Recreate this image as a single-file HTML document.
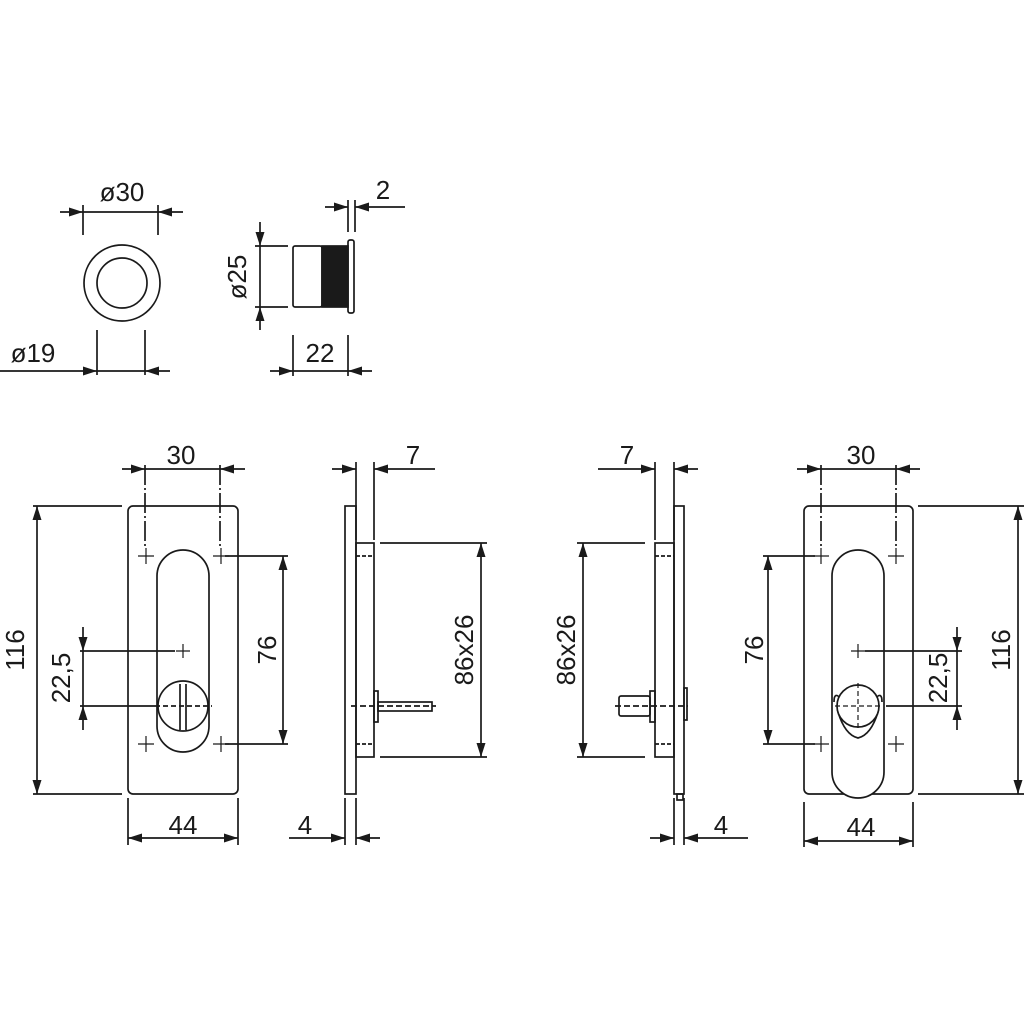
<!DOCTYPE html>
<html><head><style>html,body{margin:0;padding:0;background:#fff}svg{display:block}</style></head><body>
<svg width="1024" height="1024" viewBox="0 0 1024 1024" xmlns="http://www.w3.org/2000/svg" font-family="Liberation Sans, sans-serif" font-size="26" fill="none" stroke="#1a1a1a" stroke-width="1.7">
<defs>
<marker id="a" viewBox="0 0 14 9" refX="14" refY="4.5" markerWidth="14" markerHeight="9" markerUnits="userSpaceOnUse" orient="auto-start-reverse"><path d="M0,0L14,4.5L0,9z" fill="#1a1a1a" stroke="none"/></marker>
</defs>
<!-- top circle view -->
<circle cx="122" cy="283" r="38"/><circle cx="122" cy="283" r="25"/>
<path d="M83,205V235M158,205V235M97,330V375M145,330V375"/>
<path d="M60,212H83" marker-end="url(#a)"/><path d="M83,212H158"/><path d="M183,212H158" marker-end="url(#a)"/>
<path d="M0,371H97" marker-end="url(#a)"/><path d="M97,371H145"/><path d="M170,371H145" marker-end="url(#a)"/>
<g fill="#1a1a1a" stroke="none"><text x="122" y="201" text-anchor="middle">ø30</text><text x="33" y="362" text-anchor="middle">ø19</text><text x="383" y="199" text-anchor="middle">2</text><text x="320" y="362" text-anchor="middle">22</text>
<text transform="translate(246,277) rotate(-90)" text-anchor="middle">ø25</text></g>
<!-- cylinder side -->
<rect x="293" y="246" width="29" height="61" rx="2"/><rect x="322" y="246" width="26" height="61" fill="#1a1a1a"/><rect x="348" y="240" width="6" height="73" rx="2"/>
<path d="M255,246H288M255,307H288"/>
<path d="M260,222V246" marker-end="url(#a)"/><path d="M260,246V307"/><path d="M260,330V307" marker-end="url(#a)"/>
<path d="M348,200V232M355,200V232"/>
<path d="M325,207H348" marker-end="url(#a)"/><path d="M405,207H355" marker-end="url(#a)"/>
<path d="M293,335V376M348,335V376"/>
<path d="M270,371H293" marker-end="url(#a)"/><path d="M293,371H348"/><path d="M372,371H348" marker-end="url(#a)"/>

<!-- left plate -->
<rect x="128" y="506" width="110" height="288" rx="5"/>
<rect x="157" y="550" width="52" height="202" rx="26"/>
<circle cx="183" cy="706" r="25" fill="#fff"/>
<path d="M180,684V730M186,684V730"/>
<g stroke-width="1.2"><path d="M138,556H154M146,548V564M213,556H229M221,548V564M138,744H154M146,736V752M213,744H229M221,736V752M176,651H190M183,644V658"/></g>
<path d="M145,465V548M220,465V548" stroke-dasharray="20,3,2,3"/>
<path d="M122,469H145" marker-end="url(#a)"/><path d="M145,469H220"/><path d="M245,469H220" marker-end="url(#a)"/>
<path d="M33,506H122M33,794H122"/>
<path d="M37,650V506" marker-end="url(#a)"/><path d="M37,650V794" marker-end="url(#a)"/>
<path d="M80,651H175M80,706H155"/><path d="M155,706H212" stroke-dasharray="5,3"/>
<path d="M83,627V651" marker-end="url(#a)"/><path d="M83,651V706"/><path d="M83,730V706" marker-end="url(#a)"/>
<path d="M225,556H288M225,744H288"/>
<path d="M283,650V556" marker-end="url(#a)"/><path d="M283,650V744" marker-end="url(#a)"/>
<path d="M128,798V845M238,798V845"/>
<path d="M183,838H128" marker-end="url(#a)"/><path d="M183,838H238" marker-end="url(#a)"/>
<g fill="#1a1a1a" stroke="none"><text x="181" y="464" text-anchor="middle">30</text><text x="183" y="834" text-anchor="middle">44</text>
<text transform="translate(24,650) rotate(-90)" text-anchor="middle">116</text>
<text transform="translate(70,678) rotate(-90)" text-anchor="middle">22,5</text>
<text transform="translate(276,650) rotate(-90)" text-anchor="middle">76</text></g>

<!-- left side view -->
<rect x="345" y="506" width="11" height="288"/><rect x="356" y="543" width="18" height="214"/>
<path d="M356,556H374M356,744H374" stroke-dasharray="4,2"/>
<rect x="374" y="691" width="4" height="31"/><rect x="378" y="702" width="54" height="9"/>
<path d="M351,706H436" stroke-dasharray="6,3"/>
<path d="M356,462V540M374,462V540"/>
<path d="M332,469H356" marker-end="url(#a)"/><path d="M435,469H374" marker-end="url(#a)"/>
<path d="M380,543H487M380,757H487"/>
<path d="M481,650V543" marker-end="url(#a)"/><path d="M481,650V757" marker-end="url(#a)"/>
<path d="M345,798V845M356,798V845"/>
<path d="M289,838H345" marker-end="url(#a)"/><path d="M380,838H356" marker-end="url(#a)"/>
<g fill="#1a1a1a" stroke="none"><text x="413" y="464" text-anchor="middle">7</text><text x="305" y="834" text-anchor="middle">4</text>
<text transform="translate(473,650) rotate(-90)" text-anchor="middle">86x26</text></g>

<!-- right side view -->
<rect x="674" y="506" width="10" height="288"/><rect x="655" y="543" width="19" height="214"/>
<rect x="677" y="794" width="6" height="6"/>
<path d="M655,556H674M655,744H674" stroke-dasharray="4,2"/>
<rect x="650" y="691" width="5" height="31"/><rect x="619" y="696" width="31" height="20" rx="2"/>
<rect x="684" y="688" width="3" height="32"/>
<path d="M615,706H688" stroke-dasharray="6,3"/>
<path d="M655,462V540M674,462V540"/>
<path d="M598,469H655" marker-end="url(#a)"/><path d="M698,469H674" marker-end="url(#a)"/>
<path d="M577,543H645M577,757H645"/>
<path d="M583,650V543" marker-end="url(#a)"/><path d="M583,650V757" marker-end="url(#a)"/>
<path d="M674,798V845M684,798V845"/>
<path d="M650,838H674" marker-end="url(#a)"/><path d="M748,838H684" marker-end="url(#a)"/>
<g fill="#1a1a1a" stroke="none"><text x="627" y="464" text-anchor="middle">7</text><text x="721" y="834" text-anchor="middle">4</text>
<text transform="translate(575,650) rotate(-90)" text-anchor="middle">86x26</text></g>

<!-- right plate -->
<rect x="804" y="506" width="109" height="288" rx="5"/>
<rect x="832" y="550" width="52" height="248" rx="26" fill="#fff"/>
<path d="M834,702Q834,690 842,700M874,700Q882,690 882,702"/>
<path d="M838,712Q845,735 858,738Q871,735 878,712"/>
<circle cx="858" cy="706" r="21" fill="#fff"/>
<g stroke-width="1.2"><path d="M813,556H829M821,548V564M888,556H904M896,548V564M813,744H829M821,736V752M888,744H904M896,736V752M851,651H865M858,644V658"/>
<path d="M858,683V729M835,706H881" stroke-dasharray="5,3"/></g>
<path d="M821,465V548M896,465V548" stroke-dasharray="20,3,2,3"/>
<path d="M797,469H821" marker-end="url(#a)"/><path d="M821,469H896"/><path d="M920,469H896" marker-end="url(#a)"/>
<path d="M918,506H1024M918,794H1024"/>
<path d="M1018,650V506" marker-end="url(#a)"/><path d="M1018,650V794" marker-end="url(#a)"/>
<path d="M865,651H962M886,706H962"/>
<path d="M957,627V651" marker-end="url(#a)"/><path d="M957,651V706"/><path d="M957,730V706" marker-end="url(#a)"/>
<path d="M763,556H815M763,744H815"/>
<path d="M768,650V556" marker-end="url(#a)"/><path d="M768,650V744" marker-end="url(#a)"/>
<path d="M804,802V847M913,802V847"/>
<path d="M858,841H804" marker-end="url(#a)"/><path d="M858,841H913" marker-end="url(#a)"/>
<g fill="#1a1a1a" stroke="none"><text x="861" y="464" text-anchor="middle">30</text><text x="861" y="836" text-anchor="middle">44</text>
<text transform="translate(1010,650) rotate(-90)" text-anchor="middle">116</text>
<text transform="translate(947,678) rotate(-90)" text-anchor="middle">22,5</text>
<text transform="translate(763,650) rotate(-90)" text-anchor="middle">76</text></g>
</svg>
</body></html>
